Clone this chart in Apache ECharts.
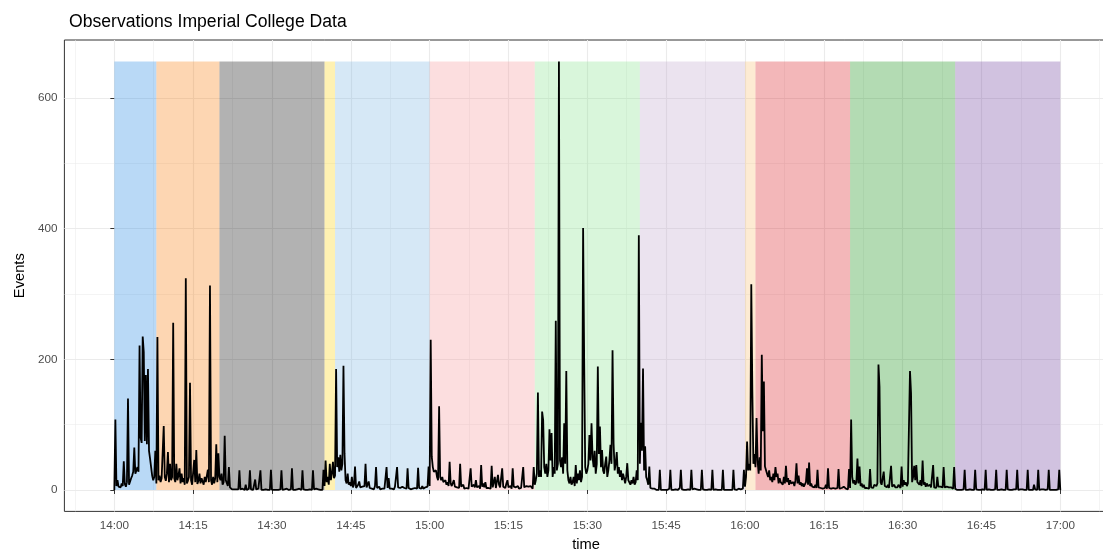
<!DOCTYPE html>
<html>
<head>
<meta charset="utf-8">
<title>Observations Imperial College Data</title>
<script src="https://cdn.jsdelivr.net/npm/echarts@6/dist/echarts.min.js"></script>
<style>
html, body { margin: 0; padding: 0; background: #fff; }
#chart { width: 1103px; height: 554px; }
</style>
</head>
<body>
<div id="chart"></div>
<script>
// one reading every 0.2 min from 14:00, one row = one minute
var STEP = 0.2;
var events = [
  0, 108, 6, 15, 5,      // 14:00
  8, 4, 10, 6, 44,
  9, 5, 12, 140, 8,
  10, 18, 22, 28, 65,
  25, 30, 35, 28, 221,
  80, 72, 235, 211, 75,
  176, 70, 185, 60, 48,
  35, 22, 15, 20, 60,
  10, 234, 15, 22, 12,
  18, 20, 98, 20, 14,
  25, 58, 12, 40, 15,    // 14:10
  20, 256, 18, 12, 40,
  15, 22, 33, 10, 25,
  12, 18, 8, 324, 10,
  14, 20, 164, 15, 8,
  10, 46, 12, 61, 9,
  14, 25, 10, 18, 15,
  8, 20, 12, 10, 31,
  12, 313, 15, 8, 20,
  10, 18, 70, 12, 56,
  20, 15, 25, 8, 12,     // 14:20
  83, 15, 18, 6, 35,
  4, 2, 1, 0, 1,
  0, 1, 0, 1, 30,
  1, 0, 2, 1, 0,
  8, 0, 0, 2, 30,
  1, 0, 0, 1, 16,
  1, 0, 2, 0, 30,
  0, 1, 0, 0, 1,
  1, 0, 1, 0, 31,
  0, 1, 0, 2, 0,         // 14:30
  1, 0, 0, 1, 30,
  0, 0, 1, 0, 2,
  1, 0, 0, 1, 33,
  0, 1, 0, 0, 1,
  0, 2, 1, 0, 30,
  1, 0, 0, 1, 0,
  0, 1, 0, 0, 30,
  1, 0, 2, 0, 1,
  0, 0, 1, 0, 31,
  6, 45, 12, 20, 8,      // 14:40
  40, 15, 25, 43, 18,
  22, 185, 35, 50, 28,
  54, 30, 40, 190, 56,
  15, 10, 25, 8, 12,
  6, 20, 4, 8, 36,
  3, 5, 8, 13, 4,
  2, 5, 3, 6, 40,
  4, 2, 13, 3, 5,
  2, 4, 1, 6, 35,
  3, 2, 5, 1, 4,         // 14:50
  2, 5, 2, 3, 35,
  3, 18, 2, 4, 2,
  3, 1, 5, 2, 35,
  4, 2, 3, 1, 5,
  2, 3, 6, 2, 33,
  3, 2, 1, 4, 2,
  1, 3, 5, 2, 34,
  3, 1, 2, 6, 2,
  1, 4, 2, 5, 36,
  6, 230, 51, 35, 28,    // 15:00
  25, 30, 20, 15, 128,
  20, 15, 20, 12, 10,
  15, 8, 12, 6, 43,
  10, 6, 8, 15, 5,
  8, 4, 6, 3, 40,
  5, 3, 8, 2, 4,
  3, 6, 2, 4, 33,
  5, 2, 8, 4, 15,
  4, 3, 6, 2, 38,
  5, 10, 4, 12, 3,       // 15:10
  6, 3, 5, 2, 37,
  4, 6, 20, 3, 5,
  23, 8, 4, 6, 33,
  5, 8, 3, 10, 15,
  4, 3, 6, 2, 33,
  5, 2, 4, 3, 6,
  2, 5, 3, 4, 35,
  4, 2, 6, 3, 5,
  3, 6, 4, 2, 35,
  8, 15, 25, 149, 20,    // 15:20
  30, 20, 120, 107, 35,
  25, 40, 20, 30, 93,
  45, 87, 20, 35, 25,
  259, 30, 40, 656, 45,
  35, 50, 25, 102, 40,
  182, 30, 15, 10, 20,
  8, 12, 20, 6, 38,
  10, 25, 15, 30, 12,
  20, 401, 198, 35, 25,
  30, 40, 84, 45, 102,   // 15:30
  50, 35, 60, 25, 40,
  189, 55, 97, 35, 61,
  30, 25, 40, 51, 20,
  30, 45, 69, 40, 214,
  71, 30, 40, 58, 25,
  35, 20, 30, 15, 25,
  18, 10, 20, 41, 15,
  12, 8, 15, 10, 20,
  8, 12, 30, 15, 390,
  40, 103, 60, 186, 30,  // 15:40
  67, 20, 15, 8, 36,
  3, 6, 2, 1, 2,
  1, 0, 2, 0, 31,
  0, 1, 0, 1, 0,
  1, 0, 0, 2, 31,
  0, 1, 0, 0, 1,
  0, 0, 1, 3, 31,
  1, 0, 0, 1, 0,
  0, 1, 0, 0, 31,
  1, 0, 2, 0, 1,         // 15:50
  0, 0, 1, 0, 31,
  1, 0, 0, 1, 0,
  0, 1, 0, 0, 31,
  0, 0, 1, 2, 0,
  1, 0, 0, 0, 31,
  0, 1, 0, 1, 0,
  0, 0, 2, 0, 31,
  1, 0, 0, 1, 2,
  0, 1, 3, 2, 31,
  5, 20, 74, 30, 40,     // 16:00
  30, 315, 153, 40, 55,
  35, 110, 45, 25, 50,
  30, 207, 90, 166, 36,
  36, 25, 20, 30, 15,
  20, 12, 25, 15, 35,
  20, 25, 10, 18, 12,
  15, 8, 20, 10, 37,
  12, 18, 8, 15, 10,
  8, 12, 6, 15, 41,
  10, 22, 8, 12, 6,      // 16:10
  10, 5, 8, 12, 33,
  8, 42, 6, 10, 5,
  6, 4, 8, 3, 31,
  4, 6, 3, 5, 2,
  5, 3, 8, 2, 33,
  3, 5, 2, 4, 3,
  4, 2, 5, 3, 32,
  2, 4, 3, 2, 5,
  3, 2, 4, 1, 32,
  3, 108, 20, 10, 15,    // 16:20
  8, 12, 48, 10, 36,
  6, 10, 4, 8, 3,
  5, 3, 6, 2, 32,
  4, 6, 3, 8, 5,
  6, 10, 192, 158, 12,
  8, 10, 28, 6, 5,
  4, 8, 3, 6, 37,
  5, 3, 8, 4, 6,
  4, 8, 5, 3, 36,
  5, 15, 8, 12, 6,       // 16:30
  10, 8, 182, 148, 12,
  20, 37, 15, 38, 12,
  10, 8, 15, 6, 45,
  8, 12, 5, 10, 6,
  5, 8, 4, 6, 38,
  4, 6, 3, 20, 5,
  3, 5, 8, 4, 35,
  4, 2, 5, 3, 4,
  2, 4, 3, 2, 35,
  2, 1, 0, 1, 0,         // 16:40
  1, 0, 0, 1, 31,
  0, 1, 0, 0, 1,
  0, 0, 1, 0, 31,
  1, 0, 0, 1, 0,
  0, 1, 0, 0, 31,
  0, 0, 1, 0, 0,
  1, 0, 0, 1, 31,
  0, 1, 0, 0, 1,
  0, 0, 1, 0, 31,
  1, 0, 0, 0, 0,         // 16:50
  0, 1, 0, 1, 31,
  0, 0, 1, 0, 1,
  1, 0, 0, 0, 31,
  0, 1, 0, 1, 0,
  8, 1, 0, 0, 31,
  0, 0, 1, 0, 1,
  1, 0, 0, 1, 31,
  0, 1, 0, 0, 0,
  1, 0, 0, 1, 31,
  0                      // 17:00
];

// sessions shaded behind the line (minutes after 14:00)
var bandStart = [0, 8, 20, 40, 42, 60, 80, 100, 120, 122, 140, 160];
var bandEnd   = [8, 20, 40, 42, 60, 80, 100, 120, 122, 140, 160, 180];
var bandColors = ['#1680e1', '#f87600', '#000000', '#fcd000', '#76b2e1', '#f59194',
                  '#80e187', '#bca2ca', '#f8bc6c', '#d71216', '#028702', '#663498'];

var timeTicks  = [0, 15, 30, 45, 60, 75, 90, 105, 120, 135, 150, 165, 180];
var timeMinor  = [-7.5, 7.5, 22.5, 37.5, 52.5, 67.5, 82.5, 97.5, 112.5, 127.5, 142.5, 157.5, 172.5, 187.5];
var eventTicks = [0, 200, 400, 600];
var eventMinor = [100, 300, 500];

var lineData = [];
for (var i = 0; i < events.length; i++) {
  lineData.push([i * STEP, events[i]]);
}
var topEvents = Math.max.apply(null, events);
var bands = [];
for (var b = 0; b < bandStart.length; b++) {
  bands.push([bandStart[b], bandEnd[b], topEvents]);
}

var clock = function (v) {
  var h = 14 + Math.floor(v / 60);
  var m = Math.round(v - Math.floor(v / 60) * 60);
  return h + ':' + (m < 10 ? '0' : '') + m;
};

var FONT = '"Liberation Sans", Arial, sans-serif';
var gridLine = { color: '#ebebeb', width: 1.1 };
var gridMinor = { color: '#ebebeb', width: 0.55 };

var chart = echarts.init(document.getElementById('chart'), null, { renderer: 'canvas' });
chart.setOption({
  animation: false,
  backgroundColor: '#ffffff',
  title: {
    text: 'Observations Imperial College Data',
    left: 64, top: 8,
    textStyle: { fontFamily: FONT, fontSize: 17.6, fontWeight: 'normal', color: '#000' }
  },
  // panel runs past the right edge of the picture, as in the original
  grid: {
    left: 64.4, width: 1043.2, top: 40, bottom: 42.6,
    outerBoundsMode: 'none', containLabel: false,
    show: true, borderColor: '#333333', borderWidth: 1, backgroundColor: '#ffffff'
  },
  xAxis: [{
    type: 'value', min: -9.5, max: 189,
    name: 'time', nameLocation: 'middle', nameGap: 26,
    nameTextStyle: { fontFamily: FONT, fontSize: 14.7, color: '#000' },
    axisLine: { show: false },
    axisTick: { show: true, length: 4, customValues: timeTicks, lineStyle: { color: '#333333' } },
    axisLabel: { customValues: timeTicks, formatter: clock, margin: 8,
      fontFamily: FONT, fontSize: 11.7, color: '#4d4d4d' },
    splitLine: { show: true, lineStyle: gridLine }
  }, {
    type: 'value', min: -9.5, max: 189,
    axisLine: { show: false }, axisLabel: { show: false },
    axisTick: { show: false, customValues: timeMinor },
    splitLine: { show: true, lineStyle: gridMinor }
  }],
  yAxis: [{
    type: 'value', min: -32.8, max: 688.8,
    name: 'Events', nameLocation: 'middle', nameGap: 36, nameRotate: 90,
    nameTextStyle: { fontFamily: FONT, fontSize: 14.7, color: '#000' },
    axisLine: { show: false },
    axisTick: { show: true, length: 4, customValues: eventTicks, lineStyle: { color: '#333333' } },
    axisLabel: { customValues: eventTicks, margin: 7,
      fontFamily: FONT, fontSize: 11.7, color: '#4d4d4d' },
    splitLine: { show: true, lineStyle: gridLine }
  }, {
    type: 'value', min: -32.8, max: 688.8,
    axisLine: { show: false }, axisLabel: { show: false },
    axisTick: { show: false, customValues: eventMinor },
    splitLine: { show: true, lineStyle: gridMinor }
  }],
  series: [{
    type: 'custom',
    xAxisIndex: 0, yAxisIndex: 0,
    silent: true, z: 1,
    data: bands,
    renderItem: function (params, api) {
      var p0 = api.coord([api.value(0), api.value(2)]);
      var p1 = api.coord([api.value(1), 0]);
      return {
        type: 'rect',
        shape: { x: p0[0], y: p0[1], width: p1[0] - p0[0], height: p1[1] - p0[1] },
        style: { fill: bandColors[params.dataIndex], opacity: 0.3 }
      };
    }
  }, {
    type: 'line',
    xAxisIndex: 0, yAxisIndex: 0,
    z: 3,
    data: lineData,
    showSymbol: false,
    symbol: 'none',
    lineStyle: { color: '#000000', width: 1.8 }
  }]
});
</script>
</body>
</html>
